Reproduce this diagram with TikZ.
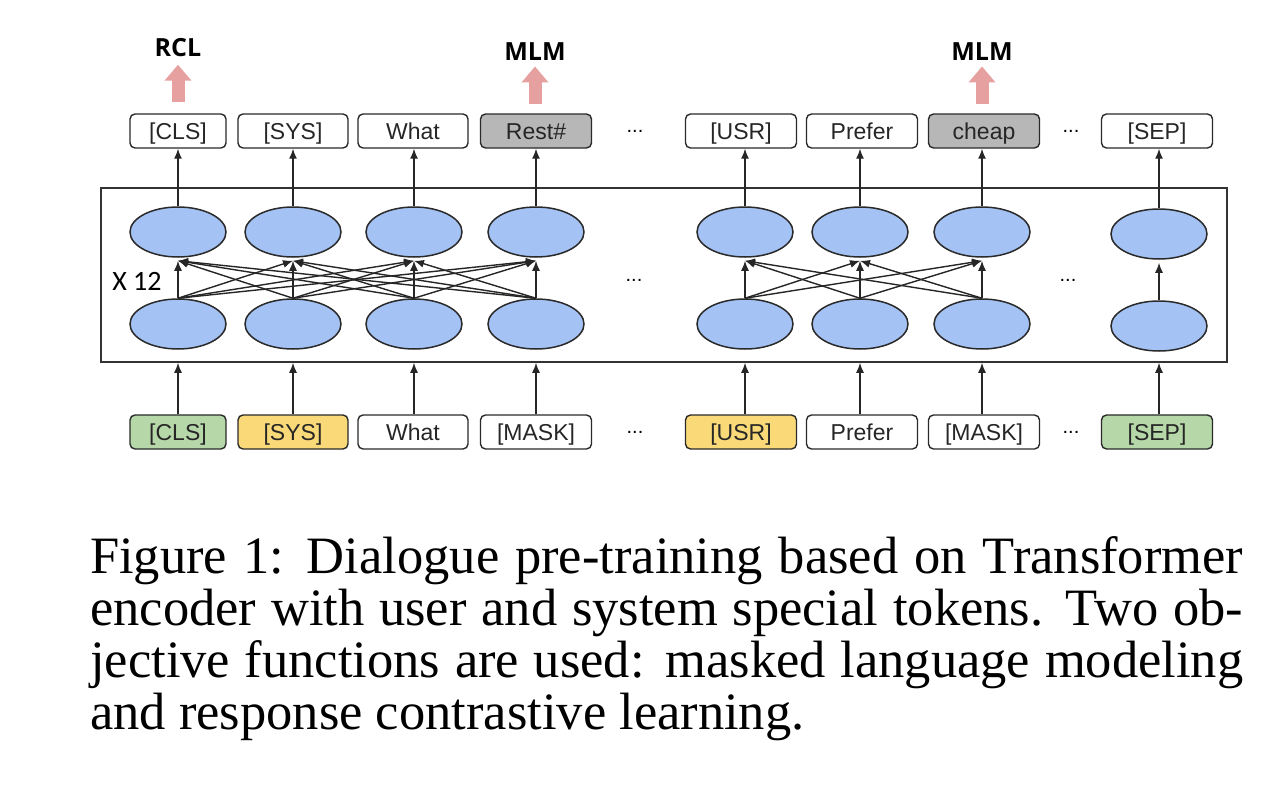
\documentclass[tikz,border=0pt]{standalone}
\usepackage{fontspec}
\setmainfont{Liberation Serif}
\newfontfamily\boxfont{Liberation Sans}
\newfontfamily\labfont{Open Sans}
\newfontfamily\calfont{Carlito}
\usetikzlibrary{arrows.meta,shapes.geometric}
\definecolor{ellfill}{HTML}{A4C2F4}
\definecolor{grn}{HTML}{B6D7A8}
\definecolor{ylw}{HTML}{F9D978}
\definecolor{gry}{HTML}{B7B7B7}
\definecolor{pnk}{HTML}{E6A0A0}
\definecolor{edge}{HTML}{2A2A2A}
\tikzset{
  tok/.style={draw=edge, line width=1.4pt, rounded corners=5pt, minimum height=34pt, inner sep=0pt,
    text height=20pt, text depth=4pt,
    font=\boxfont\fontsize{23}{25}\selectfont, text=black!85},
  unit/.style={ellipse, draw=edge, line width=1.5pt, fill=ellfill, minimum width=96pt, minimum height=50pt, inner sep=0pt},
  conn/.style={line width=1.4pt, draw=black!85, -{Latex[length=10pt,width=8pt]}},
  obj/.style={font=\labfont\bfseries\fontsize{25}{27}\selectfont},
  pinkarr/.style={draw=pnk, line width=13pt, -{Triangle[width=26pt,length=16pt]}},
  dots/.style={font=\boxfont\fontsize{20}{22}\selectfont},
}
\begin{document}
\begin{tikzpicture}[x=1pt,y=-1pt]
\useasboundingbox (0,0) rectangle (1288,808);
% transformer block
\node[draw=black!80, line width=1.5pt, minimum width=1126pt, minimum height=174pt, inner sep=0pt] (block) at (664,275) {};
% units
\foreach \n/\x in {1/178,2/293,3/414,4/536,5/745,6/860,7/982} {
  \node[unit] (t\n) at (\x,232) {};
  \node[unit] (b\n) at (\x,324) {};
}
\node[unit] (t8) at (1159,234) {};
\node[unit] (b8) at (1159,326) {};
% top tokens
\node[tok, minimum width=96pt] (oc1) at (178,131) {[CLS]};
\node[tok, minimum width=110pt] (oc2) at (293,131) {[SYS]};
\node[tok, minimum width=110pt] (oc3) at (413,131) {What};
\node[tok, minimum width=111pt, fill=gry] (oc4) at (536,131) {Rest\#};
\node[dots] (od1) at (635,131) {...};
\node[tok, minimum width=111pt] (oc5) at (741,131) {[USR]};
\node[tok, minimum width=111pt] (oc6) at (862,131) {Prefer};
\node[tok, minimum width=111pt, fill=gry] (oc7) at (984,131) {cheap};
\node[dots] (od2) at (1071,131) {...};
\node[tok, minimum width=111pt] (oc8) at (1157,131) {[SEP]};
% bottom tokens
\node[tok, minimum width=96pt, fill=grn] (ic1) at (178,432) {[CLS]};
\node[tok, minimum width=110pt, fill=ylw] (ic2) at (293,432) {[SYS]};
\node[tok, minimum width=110pt] (ic3) at (413,432) {What};
\node[tok, minimum width=111pt] (ic4) at (536,432) {[MASK]};
\node[dots] (id1) at (635,432) {...};
\node[tok, minimum width=111pt, fill=ylw] (ic5) at (741,432) {[USR]};
\node[tok, minimum width=111pt] (ic6) at (862,432) {Prefer};
\node[tok, minimum width=111pt] (ic7) at (984,432) {[MASK]};
\node[dots] (id2) at (1071,432) {...};
\node[tok, minimum width=111pt, fill=grn] (ic8) at (1157,432) {[SEP]};
% middle dots and label
\node[dots] (md1) at (634,280) {...};
\node[dots] (md2) at (1068,280) {...};
\node[font=\calfont\fontsize{28}{30}\selectfont] (x12) at (137,281) {X 12};
% objectives
\node[obj] (rcl) at (178,48) {RCL};
\node[obj] (mlm1) at (535,52) {MLM};
\node[obj] (mlm2) at (982,52) {MLM};
\draw[pinkarr] ([yshift=11pt]oc1.north) -- ([yshift=-4pt]rcl.south);
\draw[pinkarr] ([yshift=9pt]oc4.north -| mlm1) -- ([yshift=-2pt]mlm1.south);
\draw[pinkarr] ([yshift=9pt]oc7.north -| mlm2) -- ([yshift=-2pt]mlm2.south);
% up arrows from top units to output tokens, and from input tokens to the block
\foreach \n in {1,...,8} {
  \draw[conn] (t\n.north) -- (t\n.north |- oc\n.south);
  \draw[conn] (b\n.south |- ic\n.north) -- (b\n.south |- block.south);
}
% attention connections
\foreach \i in {1,...,4} {
  \foreach \j in {1,...,4} {
    \draw[conn] (b\i.north) -- ([yshift=-3pt]t\j.south);
  }
}
\foreach \i in {5,6,7} {
  \foreach \j in {5,6,7} {
    \draw[conn] (b\i.north) -- ([yshift=-3pt]t\j.south);
  }
}
\draw[conn] (b8.north) -- ([yshift=-3pt]t8.south);
% caption
\node[anchor=north west, inner sep=0pt] (cap) at (90,536) {\parbox{1153pt}{\fontsize{52.5}{52}\selectfont
Figure 1: Dialogue pre-training based on Transformer\linebreak
encoder with user and system special tokens. Two ob-\linebreak
jective functions are used: masked language modeling\linebreak
and response contrastive learning.}};
\end{tikzpicture}
\end{document}
